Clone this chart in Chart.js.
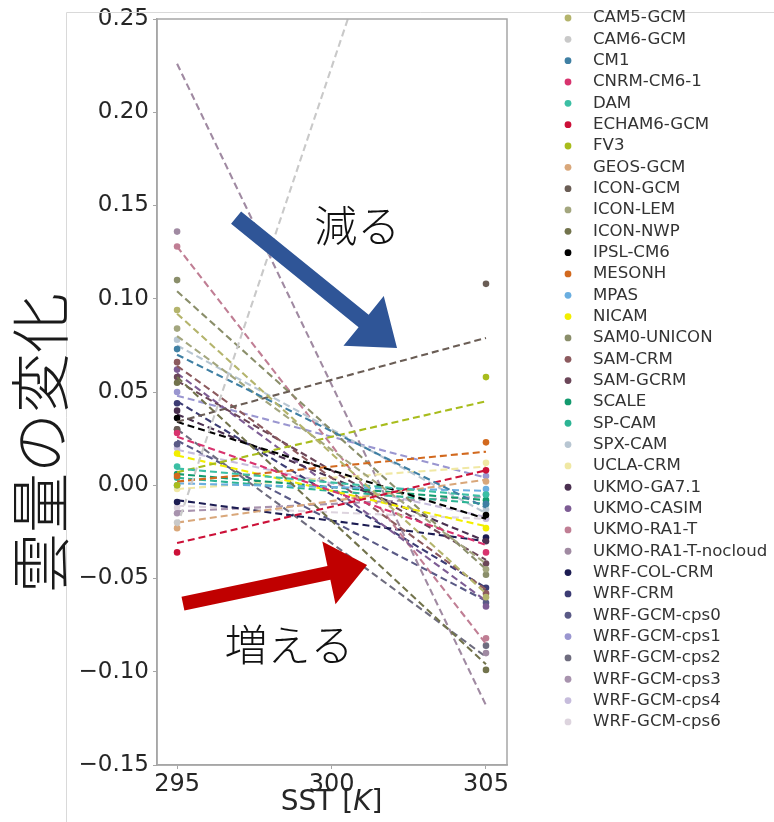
<!DOCTYPE html>
<html>
<head>
<meta charset="utf-8">
<script src="https://cdn.jsdelivr.net/npm/chart.js@4.4.1/dist/chart.umd.min.js"></script>
<style>
  html, body { margin: 0; padding: 0; background: #ffffff; }
  #wrap { width: 774px; height: 822px; }
</style>
</head>
<body>
<div id="wrap"><canvas id="c" width="774" height="822"></canvas></div>
<script>
// RCEMIP models
const models = [
  'CAM5-GCM', 'CAM6-GCM', 'CM1', 'CNRM-CM6-1', 'DAM', 'ECHAM6-GCM', 'FV3', 'GEOS-GCM',
  'ICON-GCM', 'ICON-LEM', 'ICON-NWP', 'IPSL-CM6', 'MESONH', 'MPAS', 'NICAM', 'SAM0-UNICON',
  'SAM-CRM', 'SAM-GCRM', 'SCALE', 'SP-CAM', 'SPX-CAM', 'UCLA-CRM', 'UKMO-GA7.1', 'UKMO-CASIM',
  'UKMO-RA1-T', 'UKMO-RA1-T-nocloud', 'WRF-COL-CRM', 'WRF-CRM', 'WRF-GCM-cps0', 'WRF-GCM-cps1',
  'WRF-GCM-cps2', 'WRF-GCM-cps3', 'WRF-GCM-cps4', 'WRF-GCM-cps6'
];

// SST of the coolest and warmest runs [K]
const sstRuns = [295, 305];

// cloud change at SST = 295 K and 305 K
const cloudAt295 = [
  0.094, -0.020, 0.073, 0.028, 0.010, -0.036, 0.000, -0.023,
  0.030, 0.084, 0.055, 0.036, 0.005, 0.000, 0.017, 0.110,
  0.066, 0.058, 0.006, 0.004, 0.078, -0.002, 0.040, 0.062,
  0.128, 0.136, -0.009, 0.044, 0.022, 0.050,
  0.030, -0.015, 0.020, -0.012
];
const cloudAt305 = [
  -0.060, 0.470, -0.010, -0.036, -0.005, 0.008, 0.058, 0.002,
  0.108, -0.045, -0.099, -0.016, 0.023, -0.002, -0.023, -0.048,
  -0.058, -0.042, -0.008, -0.010, -0.013, 0.012, -0.030, -0.065,
  -0.082, -0.090, -0.028, -0.055, -0.063, 0.005,
  -0.086, -0.005, -0.018, -0.018
];

// linear fit of cloud change against SST, evaluated at 295 K and 305 K
const fitAt295 = [
  0.092, -0.022, 0.070, 0.026, 0.009, -0.031, 0.007, -0.020,
  0.034, 0.080, 0.058, 0.034, 0.002, 0.001, 0.016, 0.104,
  0.064, 0.056, 0.006, 0.004, 0.075, -0.002, 0.038, 0.060,
  0.128, 0.226, -0.008, 0.045, 0.024, 0.048,
  0.030, -0.014, 0.019, -0.011
];
const fitAt305 = [
  -0.058, 0.470, -0.012, -0.032, -0.006, 0.008, 0.045, 0.003,
  0.079, -0.042, -0.096, -0.018, 0.018, -0.003, -0.022, -0.045,
  -0.056, -0.040, -0.008, -0.010, -0.015, 0.010, -0.030, -0.062,
  -0.085, -0.118, -0.030, -0.055, -0.062, 0.004,
  -0.092, -0.006, -0.017, -0.018
];

// axis ticks
const sstTicks = [295, 300, 305];
const cloudTicks = [-0.15, -0.10, -0.05, 0.00, 0.05, 0.10, 0.15, 0.20, 0.25];

// one colour per model
const modelColors = [
  '#b4b46c', '#c9c9c9', '#3f7fa3', '#d8336e', '#3bbfa4', '#cc1038', '#a8bc1c', '#d9a77a',
  '#6a5d55', '#a3a67e', '#72734c', '#000000', '#d2691e', '#6aaee0', '#f2ee00', '#8a8e6a',
  '#8c5a5e', '#6b4658', '#139a6e', '#2cb494', '#b8c6d2', '#f0e8a4', '#4a3050', '#7d5c94',
  '#c07e94', '#a08aa2', '#1c1c52', '#3c3c74', '#5a5a86', '#9a96d0',
  '#6e6c7e', '#a893ae', '#c6bcdc', '#ddd4de'
];

const datasets = [];
models.forEach((name, i) => {
  datasets.push({
    type: 'line',
    label: name + ' fit',
    data: [{ x: sstRuns[0], y: fitAt295[i] }, { x: sstRuns[1], y: fitAt305[i] }],
    borderColor: modelColors[i],
    borderWidth: 2.1,
    borderDash: [7, 4],
    pointRadius: 0,
    fill: false,
    tension: 0
  });
  datasets.push({
    type: 'scatter',
    label: name,
    data: [{ x: sstRuns[0], y: cloudAt295[i] }, { x: sstRuns[1], y: cloudAt305[i] }],
    backgroundColor: modelColors[i],
    borderWidth: 0,
    pointRadius: 3.3
  });
});

const yTickFont = { family: '"DejaVu Sans", sans-serif', size: 23 };
const xTickFont = { family: '"DejaVu Sans", sans-serif', size: 24 };
const frameColor = '#a6a6a6';

function fmtCloud(v) {
  const s = Math.abs(v).toFixed(2);
  return v < -1e-9 ? '\u2212' + s : s;
}

// block arrow from tail to tip, in pixel space
function blockArrow(ctx, tx, ty, hx, hy, shaftW, headLen, headHalf, color) {
  const len = Math.hypot(hx - tx, hy - ty);
  const dx = (hx - tx) / len, dy = (hy - ty) / len;
  const nx = -dy, ny = dx;
  const bx = hx - dx * headLen, by = hy - dy * headLen;
  const s = shaftW / 2;
  ctx.beginPath();
  ctx.moveTo(tx + nx * s, ty + ny * s);
  ctx.lineTo(bx + nx * s, by + ny * s);
  ctx.lineTo(bx + nx * headHalf, by + ny * headHalf);
  ctx.lineTo(hx, hy);
  ctx.lineTo(bx - nx * headHalf, by - ny * headHalf);
  ctx.lineTo(bx - nx * s, by - ny * s);
  ctx.lineTo(tx - nx * s, ty - ny * s);
  ctx.closePath();
  ctx.fillStyle = color;
  ctx.fill();
}

const decorations = {
  id: 'decorations',
  afterDatasetsDraw(chart) {
    const { ctx, chartArea: a, scales: { x, y } } = chart;
    ctx.save();
    // full frame around the axes
    ctx.strokeStyle = frameColor;
    ctx.lineWidth = 1.5;
    ctx.strokeRect(a.left, a.top, a.right - a.left, a.bottom - a.top);

    // "decreases" arrow (blue) and "increases" arrow (red)
    blockArrow(ctx, x.getPixelForValue(296.91), y.getPixelForValue(0.1435),
      x.getPixelForValue(302.12), y.getPixelForValue(0.0736), 16, 43, 32, '#2f5597');
    blockArrow(ctx, x.getPixelForValue(295.19), y.getPixelForValue(-0.0635),
      x.getPixelForValue(301.15), y.getPixelForValue(-0.0427), 14, 39, 32, '#c00000');

    ctx.fillStyle = '#111111';
    ctx.textAlign = 'center';
    ctx.textBaseline = 'middle';
    ctx.font = '300 43px "Noto Sans CJK JP", sans-serif';
    ctx.fillText('減る', x.getPixelForValue(300.83), y.getPixelForValue(0.1392));
    ctx.fillText('増える', x.getPixelForValue(298.62), y.getPixelForValue(-0.0853));
    ctx.restore();
  },
  afterDraw(chart) {
    const { ctx, scales: { x } } = chart;
    ctx.save();

    // faint outer border of the figure
    ctx.strokeStyle = '#d9d9d9';
    ctx.lineWidth = 1;
    ctx.beginPath();
    ctx.moveTo(66.5, 822);
    ctx.lineTo(66.5, 12.5);
    ctx.lineTo(774, 12.5);
    ctx.stroke();

    // y-axis title
    ctx.save();
    ctx.translate(40, 443);
    ctx.rotate(-Math.PI / 2);
    ctx.fillStyle = '#1a1a1a';
    ctx.textAlign = 'center';
    ctx.textBaseline = 'middle';
    ctx.font = '300 60px "Noto Sans CJK JP", sans-serif';
    ctx.fillText('雲量の変化', 0, 0);
    ctx.restore();

    // x-axis title: SST [K] with italic K
    const parts = [
      { t: 'SST [', f: '28px "DejaVu Sans", sans-serif' },
      { t: 'K', f: 'italic 28px "DejaVu Sans", sans-serif' },
      { t: ']', f: '28px "DejaVu Sans", sans-serif' }
    ];
    let total = 0;
    parts.forEach(p => { ctx.font = p.f; p.w = ctx.measureText(p.t).width; total += p.w; });
    let px = x.getPixelForValue(300) - total / 2;
    ctx.fillStyle = '#262626';
    ctx.textAlign = 'left';
    ctx.textBaseline = 'middle';
    parts.forEach(p => { ctx.font = p.f; ctx.fillText(p.t, px, 803); px += p.w; });

    // legend
    ctx.font = '16.6px "DejaVu Sans", sans-serif';
    ctx.textBaseline = 'middle';
    models.forEach((name, i) => {
      const ly = 18 + i * 21.33;
      ctx.beginPath();
      ctx.arc(568, ly, 3.4, 0, Math.PI * 2);
      ctx.fillStyle = modelColors[i];
      ctx.fill();
      ctx.fillStyle = '#333333';
      ctx.fillText(name, 593, ly);
    });
    ctx.restore();
  }
};

new Chart(document.getElementById('c'), {
  type: 'scatter',
  data: { datasets },
  options: {
    responsive: false,
    animation: false,
    devicePixelRatio: 1,
    events: [],
    layout: { padding: { left: 0, top: 19, right: 267, bottom: 0 } },
    plugins: { legend: { display: false }, tooltip: { enabled: false } },
    scales: {
      x: {
        type: 'linear',
        min: 294.35,
        max: 305.68,
        afterBuildTicks: s => { s.ticks = sstTicks.map(v => ({ value: v })); },
        afterFit: s => { s.height = 57; },
        ticks: { font: xTickFont, color: '#262626', padding: 1, maxRotation: 0,
                 callback: v => String(v) },
        grid: { drawOnChartArea: false, drawTicks: true, tickLength: 4, color: frameColor },
        border: { display: true, color: frameColor, width: 1.5 }
      },
      y: {
        type: 'linear',
        min: -0.15,
        max: 0.25,
        afterBuildTicks: s => { s.ticks = cloudTicks.map(v => ({ value: v })); },
        afterFit: s => { s.width = 157; },
        ticks: { font: yTickFont, color: '#262626', padding: 4, callback: v => fmtCloud(v) },
        grid: { drawOnChartArea: false, drawTicks: true, tickLength: 4, color: frameColor },
        border: { display: true, color: frameColor, width: 1.5 }
      }
    }
  },
  plugins: [decorations]
});
</script>
</body>
</html>
